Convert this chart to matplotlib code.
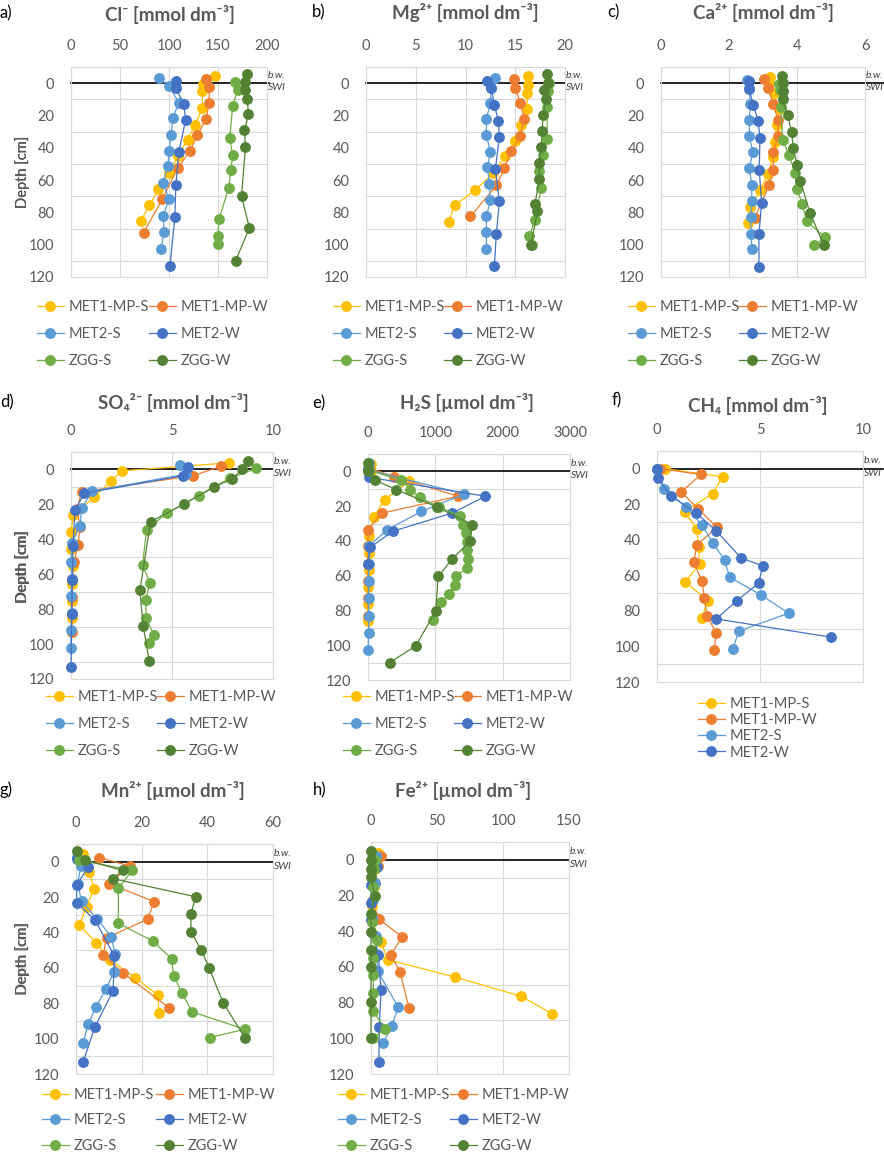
#!/usr/bin/env python3
"""
Porewater depth profiles (Cl, Mg, Ca, SO4, H2S, CH4, Mn, Fe) for six cores.
Writes out.png.
"""

import matplotlib
matplotlib.use("Agg")
import matplotlib.pyplot as plt

W, H = 884, 1154
plt.rcParams["font.family"] = ["Lato", "DejaVu Sans"]

TXT = "#595959"
GRID = "#D9D9D9"

SERIES = ["MET1-MP-S", "MET1-MP-W", "MET2-S", "MET2-W", "ZGG-S", "ZGG-W"]
COLORS = ["#FFC000", "#ED7D31", "#5B9BD5", "#4472C4", "#70AD47", "#548235"]

# (depth cm, value)
cl_met1_mp_s = [(-4.5, 147), (0.4, 135), (5, 134), (15.5, 134), (25.6, 127), (35, 119), (45, 109),
                (55.7, 100), (65.8, 89), (75.7, 80), (85.6, 71)]
cl_met1_mp_w = [(-2.7, 138), (2.5, 141), (12, 141), (22, 138), (32.4, 129), (42.3, 121), (52.4, 109),
                (72, 93), (92.6, 74)]
cl_met2_s = [(-3.3, 90), (2, 100), (12, 110), (21.6, 104), (32, 102), (42, 100), (51.3, 99), (61.6, 94),
             (72, 100), (82, 94), (92, 95), (102.5, 92)]
cl_met2_w = [(-1.6, 107), (3, 107), (12.8, 115), (22.7, 117), (42.7, 110), (63.3, 107), (83, 106), (113, 101)]
cl_zgg_s = [(-0.8, 167), (4.5, 170), (14, 165), (34, 162), (44.7, 165), (54, 163), (64.7, 161), (84.3, 151),
            (94.4, 150), (99.8, 150)]
cl_zgg_w = [(-5.8, 180), (-0.6, 178), (4.5, 178), (9.7, 180), (19.4, 181), (29.3, 177), (39.6, 178),
            (70, 174), (89.5, 182), (110, 168)]

mg_met1_mp_s = [(-4.5, 16.3), (1, 16.3), (5.8, 16.2), (15.7, 16.2), (25.8, 15.6), (35.5, 15.0), (45.4, 14.0),
                (55.7, 12.8), (66, 11.0), (75.7, 8.9), (85.8, 8.3)]
mg_met1_mp_w = [(-2.5, 14.9), (2.7, 15.0), (12.4, 15.5), (22, 15.9), (33, 15.5), (42.3, 14.6), (52.6, 13.9),
                (63.3, 13.1), (82.5, 10.5)]
mg_met2_s = [(-3, 13.0), (2.7, 12.6), (12.4, 12.5), (22, 12.1), (32.4, 12.1), (42.7, 12.5), (52.2, 12.2),
             (62.5, 12.4), (72.6, 12.5), (82.5, 12.1), (92.4, 12.1), (102.5, 12.1)]
mg_met2_w = [(-1.6, 12.2), (3, 12.6), (13.4, 12.9), (23.3, 13.3), (33.4, 13.4), (53.2, 13.0), (73.2, 13.4),
             (93.4, 13.1), (113.4, 12.9)]
mg_zgg_s = [(-0.4, 18.4), (4.7, 18.3), (14.8, 18.2), (34.6, 18.2), (44.7, 17.8), (54.6, 17.4), (65, 17.6),
            (84.5, 17.0), (94.8, 16.4), (100, 16.7)]
mg_zgg_w = [(-5.8, 18.2), (-0.4, 18.3), (4.5, 17.9), (9.7, 18.1), (19.6, 17.8), (29.5, 17.7), (39.6, 17.6),
            (49.5, 17.4), (59.4, 17.4), (74.6, 17.0), (79.4, 17.2), (100, 16.6)]

ca_met1_mp_s = [(-4.1, 3.2), (0.4, 3.19), (6.2, 3.32), (16, 3.47), (26.2, 3.4), (36.5, 3.35), (45.8, 3.28),
                (56, 3.16), (66.4, 2.91), (76.7, 2.62), (86.6, 2.57)]
ca_met1_mp_w = [(-2.3, 3.03), (2.9, 3.16), (13.2, 3.3), (23, 3.45), (32.8, 3.45), (42.7, 3.3), (53.6, 3.3),
                (62.9, 3.19), (83.3, 2.76)]
ca_met2_s = [(-2, 2.52), (3, 2.6), (12.8, 2.62), (22.5, 2.6), (33, 2.6), (42.7, 2.7), (52.6, 2.6),
             (62.9, 2.67), (73, 2.67), (82.9, 2.64), (93.2, 2.65), (102.9, 2.67)]
ca_met2_w = [(-1.6, 2.6), (3.5, 2.59), (13.8, 2.72), (23.5, 2.86), (33.8, 2.91), (54, 2.89), (74, 2.96),
             (93.6, 2.88), (113.8, 2.88)]
ca_zgg_s = [(0.4, 3.48), (4.5, 3.5), (14.8, 3.52), (35, 3.58), (44.7, 3.77), (55.5, 3.94), (65.8, 4.0),
            (75, 4.16), (85.4, 4.28), (95.3, 4.82), (100.4, 4.51)]
ca_zgg_w = [(-4.7, 3.55), (0, 3.58), (5, 3.6), (10, 3.58), (20, 3.73), (30.3, 3.84), (40, 3.89), (50.5, 4.0),
            (60.6, 4.1), (80.2, 4.38), (100.4, 4.79)]

so4_met1_mp_s = [(-3.8, 7.83), (0.8, 2.5), (6.5, 2.0), (16, 1.14), (26, 0.12), (36, 0.0), (45.7, 0.0),
                 (55, 0.1), (65.5, 0.05), (75.6, 0.05), (85, 0.05)]
so4_met1_mp_w = [(-1.9, 7.45), (3.6, 6.05), (12.8, 0.53), (22.8, 0.3), (33, 0.45), (43, 0.35), (53, 0.15),
                 (63, 0.05), (73, 0.05), (83, 0.05), (93, 0.05)]
so4_met2_s = [(-2.5, 5.39), (2.7, 5.67), (12.4, 1.05), (22.3, 0.53), (32.2, 0.45), (42, 0.05), (52.8, 0.0),
              (62.5, 0.05), (72.4, 0.0), (82, 0.05), (91.8, 0.0), (102, 0.0)]
so4_met2_w = [(-1.5, 5.77), (3.6, 5.52), (13.7, 0.66), (23.2, 0.2), (43.6, 0.1), (63.2, 0.07), (82.9, 0.03),
              (113, 0.0)]
so4_zgg_s = [(-0.6, 9.18), (5.1, 7.86), (15, 6.33), (25.1, 4.73), (34.7, 3.74), (54.7, 3.54), (64.8, 3.9),
             (74.7, 3.71), (84.8, 3.71), (94.7, 4.1), (99.4, 3.87)]
so4_zgg_w = [(-4.8, 8.76), (-0.2, 8.48), (5.5, 7.97), (9.9, 7.08), (19.8, 5.6), (29.9, 3.94), (69.3, 3.41),
             (89.5, 3.57), (109.5, 3.87)]

h2s_met1_mp_s = [(-4.2, 50), (-0.4, 40), (5.7, 610), (16.3, 248), (26.4, 84), (37, 10), (47, 10), (57, 10),
                 (66.5, 0), (76, 0), (86, 0)]
h2s_met1_mp_w = [(-2, 10), (3, 387), (14.3, 1339), (24, 208), (33.5, 0), (43, 0), (53, 0), (63, 0), (73, 0),
                 (83, 0)]
h2s_met2_s = [(-4.6, 10), (-0.8, 10), (13, 1428), (23, 793), (33.5, 288), (43, 10), (53, 10), (63, 10),
              (72.7, 10), (83, 10), (93, 10), (103, 0)]
h2s_met2_w = [(-1.5, 0), (3.4, 10), (14.3, 1745), (24, 1249), (34.4, 372), (43.6, 35), (53.2, 0)]
h2s_zgg_s = [(-0.5, 20), (5, 496), (10.5, 630), (15, 768), (20.6, 1060), (25.4, 1363), (30.6, 1413),
             (35.6, 1462), (40.5, 1477), (45.5, 1477), (50.3, 1487), (55.6, 1477), (60.2, 1304), (65.2, 1289),
             (70.4, 1200), (75.1, 1091), (85.3, 967)]
h2s_zgg_w = [(-4.6, 0), (0, 0), (5, 99), (10.5, 421), (20.6, 1031), (30.6, 1547), (40.3, 1512), (50.3, 1254),
             (60.4, 1041), (80.3, 1006), (100.4, 709), (110, 322)]

ch4_met1_mp_s = [(0, 0.4), (4.5, 3.2), (14, 2.7), (24.1, 1.34), (34, 1.94), (44, 2.02), (53.6, 2.07),
                 (63.6, 1.38), (74.2, 2.46), (83.9, 2.18)]
ch4_met1_mp_w = [(0, 0.16), (3.2, 2.14), (13.1, 1.17), (22.4, 1.99), (33, 2.91), (42.8, 1.94), (52.7, 1.78),
                 (63, 2.18), (72.7, 2.3), (82.6, 2.43), (92.3, 2.86), (102.2, 2.78)]
ch4_met2_s = [(0, 0.0), (11.6, 0.36), (21.3, 1.39), (31.6, 2.18), (41.5, 2.7), (51.4, 3.28), (61.1, 3.53),
              (71, 5.05), (81.3, 6.39), (91.4, 3.96), (101.3, 3.69)]
ch4_met2_w = [(0, 0.0), (5.4, 0.03), (15.3, 0.68), (25, 1.91), (35, 2.88), (50.3, 4.09), (54.6, 5.13),
              (64.3, 4.94), (74.2, 3.88), (84.5, 2.88), (94.8, 8.45)]

mn_met1_mp_s = [(-4.5, 2.0), (1.1, 1.5), (5.8, 4.1), (15.3, 5.5), (25.4, 3.2), (35.8, 1.0), (45.8, 6.1),
                (55.7, 10.5), (65.5, 17.9), (75.5, 25.0), (85.7, 25.2)]
mn_met1_mp_w = [(-2.3, 7.0), (2.4, 16.4), (12.4, 10.1), (22.6, 23.8), (32.6, 21.8), (43, 9.3), (52.7, 8.3),
                (62.7, 14.2), (82.5, 28.3)]
mn_met2_s = [(-2.6, 0.2), (2.5, 1.5), (12.5, 0.5), (22.2, 1.7), (32.6, 6.5), (42.4, 10.8), (52.4, 11.9),
             (62.2, 11.6), (72.1, 9.1), (82, 6.1), (91.9, 3.7), (102.3, 2.2)]
mn_met2_w = [(-1.7, 0.2), (3, 3.7), (13.2, 0.2), (23.2, 0.2), (33, 5.8), (53.3, 11.7), (73, 11.3),
             (93.2, 5.8), (113, 2.2)]
mn_zgg_s = [(-0.9, 1.0), (4.9, 17.2), (15, 12.9), (34.8, 12.9), (44.8, 23.3), (54.8, 29.1), (64.6, 29.8),
            (74.4, 32.3), (84.9, 35.4), (94.7, 51.4), (99.4, 40.7)]
mn_zgg_w = [(-6, 0.2), (-0.9, 2.7), (4.9, 14.2), (9.6, 11.3), (19.8, 36.4), (29.8, 35), (39.5, 35),
            (50.1, 38.2), (59.9, 40.5), (79.7, 44.8), (99.4, 51.4)]

fe_met1_mp_s = [(-3.8, 5), (0.4, 3.8), (5, 3), (15, 2), (25.7, 1), (35, 1), (46, 7.6), (55.9, 12.6),
                (65.7, 63.6), (76.4, 113.6), (86.3, 137.4)]
fe_met1_mp_w = [(-1.9, 7.6), (3.2, 5), (13, 3), (23, 1), (33.2, 6), (43.2, 23.7), (53.1, 14.9), (62.8, 22),
                (83.1, 28.8)]
fe_met2_s = [(-2.3, 3.5), (2.8, 3.5), (12.8, 3), (22.5, 1.8), (32.8, 1), (42.8, 3.5), (62.3, 5), (82.6, 20.7),
             (92.9, 15.7), (102.6, 9.3)]
fe_met2_w = [(-0.6, 1), (3.8, 4.3), (14, 0), (24, 0), (33.8, 0), (53.1, 5.6), (73.2, 7.6), (93.8, 6.3),
             (113.5, 6)]
fe_zgg_s = [(0, 3), (5, 2.5), (15, 1.3), (34.7, 1), (44.7, 4.3), (55, 1.8), (64.7, 1.8), (74.7, 1.8),
            (84.8, 1.8), (94.7, 10.6), (100, 1.8)]
fe_zgg_w = [(-4.7, 0), (0, 0), (5.3, 0), (9.8, 0), (20.3, 3), (30.4, 0), (40.3, 0), (50.3, 0), (60, 0),
            (79.7, 0), (100, 0)]


def px_rect(left, top, right, bottom):
    return [left / W, 1 - bottom / H, (right - left) / W, (bottom - top) / H]


PANELS = [
    # letter, title, profiles, xmax, xstep, plot box px (l, t, r, b), title centre, letter pos, swi extension px
    ("a)", "Cl⁻ [mmol dm⁻³]", [cl_met1_mp_s, cl_met1_mp_w, cl_met2_s, cl_met2_w, cl_zgg_s, cl_zgg_w],
     200, 50, (71, 67, 267, 277), (170, 14), (0, 13), 2),
    ("b)", "Mg²⁺ [mmol dm⁻³]", [mg_met1_mp_s, mg_met1_mp_w, mg_met2_s, mg_met2_w, mg_zgg_s, mg_zgg_w],
     20, 5, (366, 67, 565, 277), (465, 13), (312, 12), 0),
    ("c)", "Ca²⁺ [mmol dm⁻³]", [ca_met1_mp_s, ca_met1_mp_w, ca_met2_s, ca_met2_w, ca_zgg_s, ca_zgg_w],
     6, 2, (661, 67, 865, 277), (763, 13), (607, 12), 19),
    ("d)", "SO₄²⁻ [mmol dm⁻³]", [so4_met1_mp_s, so4_met1_mp_w, so4_met2_s, so4_met2_w, so4_zgg_s, so4_zgg_w],
     10, 5, (71, 452, 273, 679), (173, 403), (0, 402), 0),
    ("e)", "H₂S [µmol dm⁻³]", [h2s_met1_mp_s, h2s_met1_mp_w, h2s_met2_s, h2s_met2_w, h2s_zgg_s, h2s_zgg_w],
     3000, 1000, (368, 454, 570, 680), (467, 403), (312, 403), 0),
    ("f)", "CH₄ [mmol dm⁻³]", [ch4_met1_mp_s, ch4_met1_mp_w, ch4_met2_s, ch4_met2_w],
     10, 5, (657, 451, 863, 682), (758, 406), (612, 400), 20),
    ("g)", "Mn²⁺ [µmol dm⁻³]", [mn_met1_mp_s, mn_met1_mp_w, mn_met2_s, mn_met2_w, mn_zgg_s, mn_zgg_w],
     60, 20, (76, 844, 273, 1074), (173, 790), (0, 790), 0),
    ("h)", "Fe²⁺ [µmol dm⁻³]", [fe_met1_mp_s, fe_met1_mp_w, fe_met2_s, fe_met2_w, fe_zgg_s, fe_zgg_w],
     150, 50, (371, 842, 569, 1074), (463, 790), (313, 790), 0),
]

# legend: (first handle x px, first row centre y px, second column handle x px, row spacing)
LEGENDS = [
    (37, 305, 149, 0.88), (333, 305, 444, 0.88), (628, 305, 739, 0.88),
    (46, 695, 157, 0.88), (343, 695, 454, 0.88), None,
    (42, 1093, 156, 0.78), (338, 1093, 450, 0.78),
]


def draw_panel(fig, spec):
    letter, title, profiles, xmax, xstep, box, title_xy, letter_xy, swi_ext = spec
    left, top, right, bottom = box
    ax = fig.add_axes(px_rect(left, top, right, bottom))

    handles = []
    for prof, name, color in zip(profiles, SERIES, COLORS):
        depth = [p[0] for p in prof]
        value = [p[1] for p in prof]
        (line,) = ax.plot(value, depth, color=color, lw=0.9, marker="o", ms=6.8,
                          mec=color, mfc=color, label=name, clip_on=False, zorder=3)
        handles.append(line)

    ax.set_xlim(0, xmax)
    ax.set_ylim(120, -10)
    ax.set_xticks(range(0, xmax + 1, xstep))
    ax.set_yticks(range(0, 121, 20))
    ax.set_yticks(range(-10, 121, 10), minor=True)
    ax.xaxis.tick_top()
    ax.tick_params(axis="both", which="both", length=0, labelsize=10.5, colors=TXT)
    ax.tick_params(axis="x", pad=10)
    ax.tick_params(axis="y", pad=12)
    ax.grid(True, axis="x", color=GRID, lw=0.8)
    ax.grid(True, axis="y", which="minor", color=GRID, lw=0.8)
    ax.set_axisbelow(True)
    for s in ax.spines.values():
        s.set_color(GRID)
        s.set_linewidth(0.8)

    # sediment-water interface
    span = xmax * (1 + swi_ext / (right - left))
    ax.plot([0, span], [0, 0], color="black", lw=1.2, clip_on=False, zorder=2)
    ax.text(1.005, -4.5, "b.w.", transform=ax.get_yaxis_transform(), fontsize=7.5,
            style="italic", color="#404040", ha="left", va="center")
    ax.text(1.005, 2.5, "SWI", transform=ax.get_yaxis_transform(), fontsize=7.5,
            style="italic", color="#404040", ha="left", va="center")

    fig.text(title_xy[0] / W, 1 - title_xy[1] / H, title, fontsize=13.5, fontweight="bold",
             color=TXT, ha="center", va="center")
    fig.text(letter_xy[0] / W, 1 - letter_xy[1] / H, letter, fontsize=12, color="black",
             ha="left", va="center")
    fig.text(23 / W, 1 - (top + bottom) / 2 / H, "Depth [cm]", rotation=90, fontsize=10.5,
             fontweight="normal", color=TXT, ha="center", va="center")
    return ax, handles


def add_legend(fig, handles, x_px, y_px, spacing):
    fig.legend(handles=handles, loc="upper left", bbox_to_anchor=(x_px / W, 1 - (y_px - 5) / H),
               frameon=False, fontsize=10.5, labelcolor=TXT, handlelength=1.85, handletextpad=0.3,
               borderpad=0, borderaxespad=0, labelspacing=spacing, markerscale=1.0)


def main():
    fig = plt.figure(figsize=(W / 100, H / 100), dpi=100)

    for spec, leg in zip(PANELS, LEGENDS):
        ax, handles = draw_panel(fig, spec)
        if leg is None:
            add_legend(fig, handles, 698, 702, 0.15)
        else:
            x1, y1, x2, sp = leg
            add_legend(fig, handles[0::2], x1, y1, sp)
            add_legend(fig, handles[1::2], x2, y1, sp)

    fig.savefig("out.png", dpi=100)
    plt.close(fig)


if __name__ == "__main__":
    main()
